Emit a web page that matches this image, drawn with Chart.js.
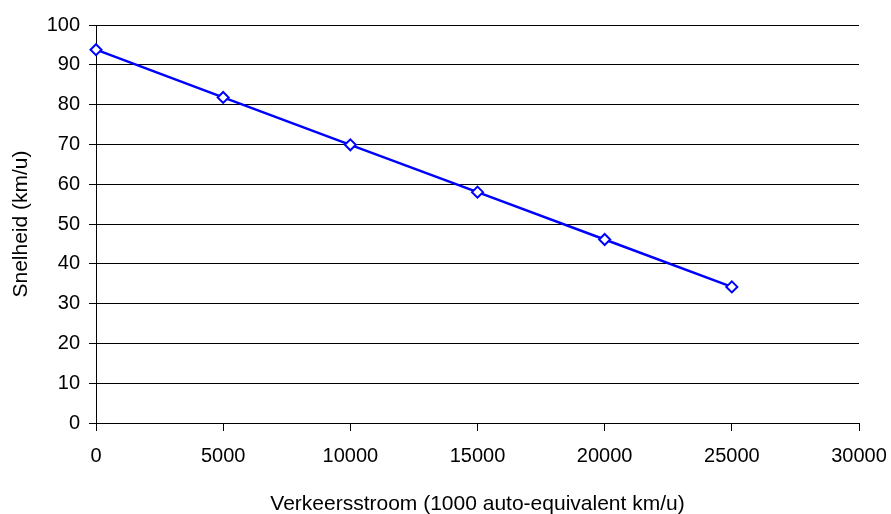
<!DOCTYPE html>
<html>
<head>
<meta charset="utf-8">
<script src="https://cdn.jsdelivr.net/npm/chart.js@4/dist/chart.umd.min.js"></script>
<style>
  html, body { margin: 0; padding: 0; background: #fff; }
  #wrap { width: 891px; height: 514px; }
</style>
</head>
<body>
<div id="wrap"><canvas id="speedChart" width="891" height="514"></canvas></div>
<script>
// traffic flow (1000 car-equivalent km/h) vs. speed (km/h)
const flow = [0, 5000, 10000, 15000, 20000, 25000];
const speed = [93.8, 81.8, 69.9, 58.0, 46.1, 34.2];
const xTicks = [0, 5000, 10000, 15000, 20000, 25000, 30000];
const yTicks = [0, 10, 20, 30, 40, 50, 60, 70, 80, 90, 100];

const FONT = "'Liberation Sans', Arial, Helvetica, sans-serif";
const BLUE = '#0000ff';

Chart.defaults.font.family = FONT;
Chart.defaults.color = '#000';

new Chart(document.getElementById('speedChart'), {
  type: 'line',
  data: {
    datasets: [{
      label: 'Snelheid',
      data: flow.map((x, i) => ({ x, y: speed[i] })),
      borderColor: BLUE,
      borderWidth: 2.5,
      backgroundColor: '#fff',
      pointStyle: 'rectRot',
      pointRadius: 5.5,
      pointBorderWidth: 2,
      pointBorderColor: BLUE,
      pointBackgroundColor: '#fff',
      tension: 0,
      clip: false,
    }],
  },
  options: {
    responsive: false,
    animation: false,
    layout: { padding: { top: 25, right: 32, bottom: 0, left: 0 } },
    plugins: { legend: { display: false }, tooltip: { enabled: false } },
    scales: {
      x: {
        type: 'linear',
        min: 0,
        max: 30000,
        afterBuildTicks: s => { s.ticks = xTicks.map(v => ({ value: v })); },
        afterFit: s => { s.height = 91; s.paddingLeft = 0; s.paddingRight = 0; },
        ticks: { font: { size: 20 }, padding: 13, maxRotation: 0, callback: v => String(v) },
        grid: { drawOnChartArea: false, drawTicks: true, tickLength: 8, color: '#000', lineWidth: 1 },
        border: { display: true, color: '#000', width: 1 },
        title: {
          display: true,
          text: 'Verkeersstroom (1000 auto-equivalent km/u)',
          font: { size: 21 },
          padding: { top: 12, bottom: -3 },
        },
      },
      y: {
        type: 'linear',
        min: 0,
        max: 100,
        afterBuildTicks: s => { s.ticks = yTicks.map(v => ({ value: v })); },
        afterFit: s => { s.width = 96; },
        ticks: { font: { size: 20 }, padding: 9, callback: v => String(v) },
        grid: { drawTicks: true, tickLength: 7, color: '#000', lineWidth: 1 },
        border: { display: true, color: '#000', width: 1 },
        title: {
          display: true,
          text: 'Snelheid (km/u)',
          font: { size: 21 },
          padding: { top: 9, bottom: 4 },
        },
      },
    },
  },
});
</script>
</body>
</html>
